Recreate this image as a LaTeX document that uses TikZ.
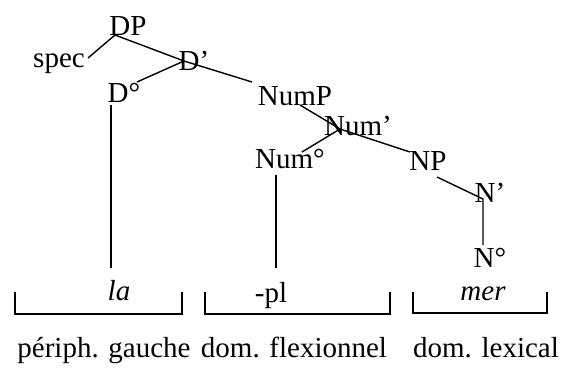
\documentclass[tikz,border=0pt]{standalone}
\usepackage{fontspec}
\setmainfont{Liberation Serif}

\tikzset{
  cat/.style={inner sep=0pt, anchor=base, font=\fontsize{14.5}{17}\selectfont},
  word/.style={cat, font=\fontsize{14.5}{17}\selectfont\itshape},
  domlabel/.style={inner sep=0pt, anchor=base, font=\fontsize{14.5}{17}\selectfont},
  branch/.style={line width=0.7pt},
  bracket/.style={line width=0.7pt}
}

\begin{document}
\begin{tikzpicture}[x=0.5pt,y=-0.5pt]
\useasboundingbox (0,0) rectangle (561,371);

% tree labels
\node[cat] (dp) at (128,35) {DP};
\node[cat] (spec) at (59,67) {spec};
\node[cat] (dbar) at (194,70) {D’};
\node[cat] (dzero) at (124,102) {D°};
\node[cat] (nump) at (295,105) {NumP};
\node[cat] (numbar) at (358,135) {Num’};
\node[cat] (numzero) at (290,168) {Num°};
\node[cat] (np) at (428,170) {NP};
\node[cat] (nbar) at (490,202) {N’};
\node[cat] (nzero) at (490,267) {N°};

% words
\node[word] (la) at (119,300) {la};
\node[cat] (pl) at (271,302) {-pl};
\node[word] (mer) at (483,300) {mer};

% domains
\node[domlabel] (periph) at (104,357) {périph. gauche};
\node[domlabel] (flex) at (294,357) {dom. flexionnel};
\node[domlabel] (lex) at (486,357) {dom. lexical};

% junctions
\coordinate (dpfoot) at (115,35);
\coordinate (dbarfoot) at (184,61);
\coordinate (numbarfoot) at (340,129);
\coordinate (laend) at (111,268);
\coordinate (plend) at (276,268);
\coordinate (nbarfoot) at (483,199);

% branches
\draw[branch] (dpfoot) -- (88,58);
\draw[branch] (dpfoot) -- (dbarfoot) -- (252,82);
\draw[branch] (dbarfoot) -- (137,82);
\draw[branch] (laend |- dzero.south) ++(0,3) -- (laend);
\draw[branch] (300,105) -- (numbarfoot) -- (410,152);
\draw[branch] (numbarfoot) -- (302,152);
\draw[branch] (plend |- numzero.south) ++(0,6) -- (plend);
\draw[branch] (437,177) -- (nbarfoot) -- (483,245);

% brackets
\draw[bracket] (15,292) -- (15,314) -- (182,314) -- (182,292);
\draw[bracket] (205,292) -- (205,314) -- (390,314) -- (390,292);
\draw[bracket] (413,292) -- (413,313) -- (547,313) -- (547,292);
\end{tikzpicture}
\end{document}
